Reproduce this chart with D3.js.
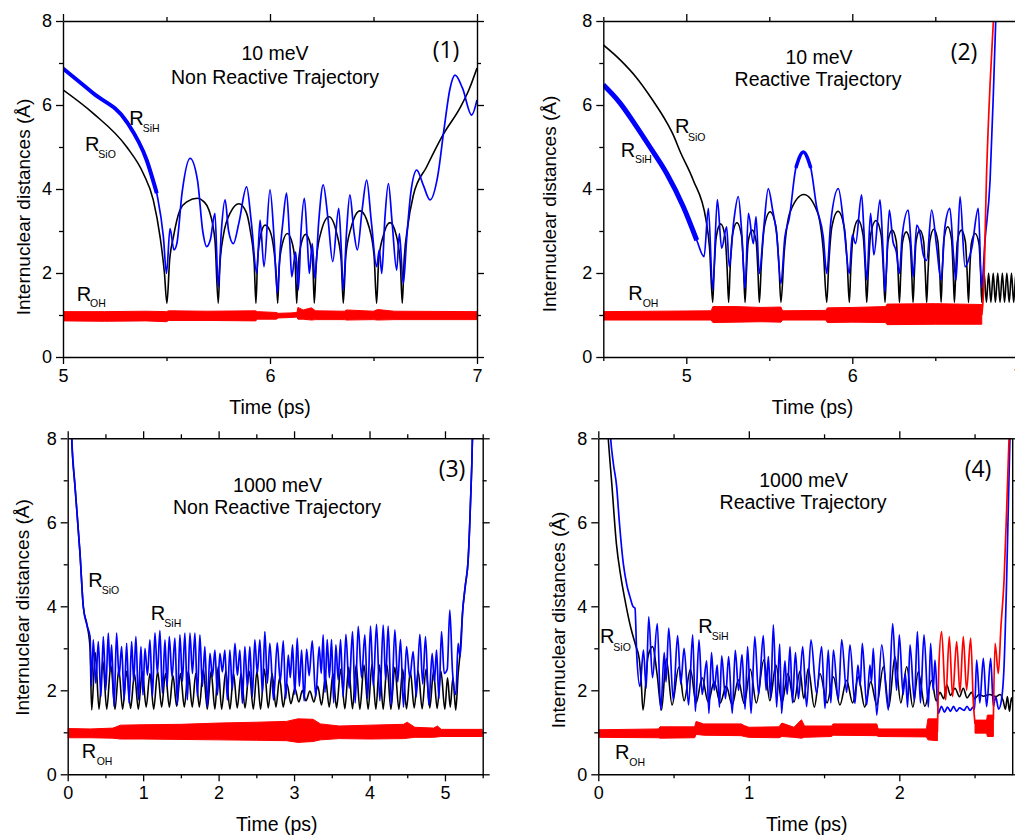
<!DOCTYPE html>
<html><head><meta charset="utf-8">
<script src="https://cdn.jsdelivr.net/npm/d3@7"></script>
<style>
body{margin:0;background:#fff}
svg{display:block}
text{font-family:"Liberation Sans",Arial,sans-serif;fill:#000}
</style></head>
<body><svg id="c" width="1015" height="835"></svg>
<script>
// ---------------- DATA ----------------
const yTicks = [0, 2, 4, 6, 8];
const yMinor = [1, 3, 5, 7];
const panelTitles = ["10 meV", "10 meV", "1000 meV", "1000 meV"];
const panelKinds = ["Non Reactive Trajectory", "Reactive Trajectory", "Non Reactive Trajectory", "Reactive Trajectory"];
const panelTags = ["(1)", "(2)", "(3)", "(4)"];
const xDomains = [[5, 7], [4.5, 7], [0, 5.5], [0, 2.75]];
const xMajor = [[5, 6, 7], [5, 6, 7], [0, 1, 2, 3, 4, 5], [0, 1, 2]];
const xMinor = [[5.5, 6.5], [4.5, 5.5, 6.5], [0.5, 1.5, 2.5, 3.5, 4.5, 5.5], [0.5, 1.5, 2.5]];
const xTitle = "Time (ps)";
const yTitle = "Internuclear distances (Å)";

// Panel 1 : 10 meV non reactive
const p1SiO = [[5.0,6.36],[5.146,5.8],[5.308,5.0],[5.388,4.37],[5.436,3.74],[5.469,2.86],[5.49,2.0],[5.502,1.28],
 [5.515,2.3],[5.533,2.85],[5.565,3.5],[5.6,3.7],[5.65,3.78],[5.68,3.7],[5.705,3.5],[5.734,2.79],[5.75,1.28],
 [5.758,2.2],[5.775,2.9],[5.81,3.45],[5.85,3.65],[5.885,3.45],[5.905,3.0],[5.924,2.2],[5.932,1.28],
 [5.94,2.3],[5.955,2.9],[5.976,3.14],[6.0,3.0],[6.02,2.5],[6.031,1.9],[6.037,1.28],
 [6.045,2.2],[6.06,2.7],[6.084,2.94],[6.108,2.7],[6.122,2.2],[6.129,1.28],
 [6.137,2.2],[6.15,2.68],[6.172,2.92],[6.195,2.68],[6.207,2.2],[6.214,1.28],
 [6.224,2.3],[6.245,2.95],[6.285,3.34],[6.322,2.95],[6.344,2.3],[6.354,1.28],
 [6.366,2.4],[6.39,3.05],[6.435,3.48],[6.478,3.1],[6.503,2.4],[6.515,1.28],
 [6.525,2.3],[6.548,2.9],[6.58,3.2],[6.61,2.9],[6.63,2.2],[6.639,1.28],
 [6.648,2.3],[6.665,3.1],[6.692,3.84],[6.757,4.53],[6.837,5.3],[6.92,5.95],[6.96,6.35],[7.0,6.88]];
const p1SiH = [[5.0,6.87],[5.146,6.28],[5.308,5.6],[5.404,4.69],[5.453,3.9],[5.485,2.86],[5.5,1.99],
 [5.517,3.06],[5.536,2.55],[5.55,2.7],[5.575,3.9],[5.614,4.73],[5.65,4.2],[5.675,3.0],[5.694,2.63],[5.712,2.8],[5.734,3.42],[5.75,1.67],
 [5.765,3.0],[5.783,3.74],[5.8,3.0],[5.823,2.7],[5.85,3.2],[5.887,4.05],[5.91,3.2],[5.936,1.99],[5.952,3.26],[5.971,2.15],
 [6.0,3.98],[6.02,2.8],[6.035,1.52],[6.05,2.6],[6.062,3.2],[6.08,3.9],[6.095,2.8],[6.105,1.91],[6.124,2.5],[6.137,1.6],
 [6.15,3.0],[6.166,3.78],[6.18,2.8],[6.19,1.99],[6.204,2.7],[6.217,1.87],[6.235,3.2],[6.257,4.1],[6.28,3.3],[6.303,2.27],
 [6.332,3.54],[6.345,2.5],[6.354,1.6],[6.37,3.0],[6.386,3.86],[6.405,3.0],[6.422,2.55],[6.445,3.5],[6.467,4.21],[6.49,3.2],
 [6.515,2.15],[6.528,2.55],[6.54,1.99],[6.555,3.3],[6.572,4.13],[6.59,3.2],[6.612,2.07],[6.625,2.94],[6.644,1.75],
 [6.66,2.8],[6.68,3.9],[6.709,4.45],[6.74,4.1],[6.773,3.74],[6.81,4.3],[6.84,5.4],[6.87,6.4],[6.894,6.71],[6.93,6.4],[6.974,5.76],[7.0,6.12]];
const p1OH = [[5.0,0.86,1.08],[5.2,0.85,1.08],[5.4,0.86,1.09],[5.5,0.84,1.08],[5.51,0.87,1.1],[5.7,0.87,1.09],[5.93,0.86,1.1],
 [5.94,0.9,1.08],[6.03,0.9,1.06],[6.04,0.93,1.04],[6.1,0.94,1.05],[6.13,0.95,1.06],[6.135,0.9,1.18],[6.16,0.9,1.12],[6.2,0.88,1.17],
 [6.22,0.89,1.1],[6.36,0.89,1.09],[6.37,0.88,1.12],[6.5,0.89,1.09],[6.52,0.88,1.13],[6.6,0.89,1.09],[7.0,0.89,1.08]];

// Panel 2 : 10 meV reactive
const p2SiO = [[4.5,7.43],[4.6,7.08],[4.7,6.65],[4.8,6.1],[4.88,5.6],[4.92,5.3],[4.962,4.9],[5.042,4.21],[5.119,3.26],[5.14,2.6],[5.159,1.3],
 [5.168,2.1],[5.18,2.85],[5.207,3.17],[5.234,2.85],[5.246,2.1],[5.255,1.3],
 [5.264,2.1],[5.277,2.88],[5.305,3.2],[5.333,2.88],[5.345,2.1],[5.354,1.3],
 [5.362,2.0],[5.373,2.75],[5.397,3.02],[5.421,2.75],[5.432,2.0],[5.44,1.3],
 [5.452,2.2],[5.47,3.1],[5.505,3.46],[5.54,3.1],[5.558,2.2],[5.57,1.3],
 [5.59,2.5],[5.625,3.45],[5.708,3.87],[5.79,3.45],[5.826,2.5],[5.846,1.3],
 [5.858,2.2],[5.877,3.1],[5.914,3.47],[5.951,3.1],[5.97,2.2],[5.982,1.3],
 [5.991,2.1],[6.005,2.9],[6.035,3.26],[6.065,2.9],[6.078,2.1],[6.087,1.3],
 [6.097,2.1],[6.11,2.9],[6.142,3.25],[6.174,2.9],[6.187,2.1],[6.197,1.3],
 [6.205,2.0],[6.215,2.75],[6.24,3.02],[6.265,2.75],[6.276,2.0],[6.284,1.3],
 [6.292,2.0],[6.302,2.72],[6.325,2.98],[6.348,2.72],[6.358,2.0],[6.366,1.3],
 [6.374,2.0],[6.384,2.75],[6.407,3.02],[6.43,2.75],[6.44,2.0],[6.448,1.3],
 [6.456,2.0],[6.467,2.76],[6.491,3.04],[6.515,2.76],[6.527,2.0],[6.535,1.3],
 [6.542,2.0],[6.552,2.8],[6.575,3.1],[6.598,2.8],[6.608,2.0],[6.615,1.3],
 [6.623,2.0],[6.633,2.75],[6.657,3.02],[6.681,2.75],[6.692,2.0],[6.7,1.3],
 [6.707,2.0],[6.717,2.7],[6.74,2.94],[6.763,2.7],[6.773,2.0],[6.78,1.3],
 [6.794,2.0],[6.808,1.3],[6.821,2.0],[6.835,1.3],[6.849,2.0],[6.862,1.3],[6.876,2.0],[6.89,1.3],[6.904,2.0],[6.917,1.3],
 [6.931,2.0],[6.945,1.3],[6.959,2.0],[6.972,1.3],[6.986,2.0],[7.0,1.3],[7.014,2.0]];
const p2SiH = [[4.5,6.48],[4.6,6.05],[4.681,5.6],[4.781,5.0],[4.882,4.37],[4.982,3.58],[5.063,2.78],[5.107,2.39],
 [5.133,3.54],[5.159,1.6],[5.187,3.75],[5.213,2.59],[5.243,3.1],[5.259,2.15],[5.285,3.2],[5.313,3.82],[5.335,2.9],[5.354,1.63],
 [5.374,3.42],[5.404,2.7],[5.42,3.34],[5.44,1.99],[5.465,3.0],[5.494,4.01],[5.52,3.5],[5.544,2.94],[5.57,1.75],[5.594,2.86],
 [5.62,3.3],[5.66,4.5],[5.705,4.88],[5.75,4.5],[5.785,3.58],[5.825,2.86],[5.846,1.99],[5.87,3.2],[5.916,4.01],[5.95,3.1],[5.982,1.99],
 [6.0,2.9],[6.02,2.7],[6.056,3.86],[6.07,3.0],[6.087,1.83],[6.11,3.42],[6.13,2.43],[6.167,3.74],[6.182,2.8],[6.197,1.55],
 [6.223,3.5],[6.245,2.75],[6.265,2.51],[6.284,1.99],[6.3,2.87],[6.337,3.5],[6.355,2.6],[6.367,1.91],[6.388,3.14],[6.41,2.9],
 [6.428,2.43],[6.448,2.3],[6.478,3.5],[6.508,2.63],[6.535,1.83],[6.558,3.1],[6.588,3.54],[6.61,2.4],[6.625,1.83],[6.649,3.82],
 [6.679,2.15],[6.7,2.31],[6.72,2.6],[6.759,3.54],[6.779,1.67],[6.8,2.8],[6.83,4.21],[6.85,6.3],[6.864,8.0],[6.87,8.6]];
const p2OH = [[4.5,0.88,1.08],[5.15,0.88,1.1],[5.16,0.82,1.2],[5.3,0.83,1.2],[5.45,0.84,1.18],[5.57,0.83,1.19],[5.58,0.88,1.1],
 [5.84,0.88,1.11],[5.85,0.82,1.17],[6.0,0.83,1.18],[6.2,0.82,1.2],[6.21,0.77,1.26],[6.5,0.78,1.27],[6.78,0.78,1.25]];
const p2OHrise = [[6.78,1.0],[6.79,1.5],[6.81,4.5],[6.83,6.5],[6.85,8.0],[6.86,8.8]];

// Panel 3 : 1000 meV non reactive
const p3SiO = [[0.045,8.6],[0.053,8.0],[0.097,6.85],[0.163,5.26],[0.207,3.99],[0.26,3.52],[0.296,3.0],[0.318,1.53],
 [0.366,2.9],[0.415,1.55],[0.466,2.7],[0.517,1.55],[0.572,2.6],[0.627,1.55],[0.677,2.5],[0.728,1.55],[0.781,2.45],[0.834,1.57],
 [0.885,2.4],[0.936,1.55],[0.988,2.45],[1.04,1.6],[1.09,2.4],[1.14,1.55],[1.192,2.45],[1.245,1.6],[1.296,2.4],[1.347,1.6],
 [1.395,2.35],[1.444,1.62],[1.494,2.4],[1.545,1.6],[1.598,2.45],[1.651,1.6],[1.697,2.4],[1.744,1.6],[1.797,2.5],[1.85,1.55],
 [1.9,2.45],[1.951,1.55],[1.995,2.56],[2.04,1.55],[2.095,2.45],[2.15,1.55],[2.198,2.4],[2.247,1.58],[2.298,2.4],[2.35,1.58],
 [2.405,2.45],[2.46,1.55],[2.508,2.45],[2.556,1.55],[2.607,2.5],[2.658,1.58],[2.709,2.4],[2.76,1.6],[2.808,2.3],[2.856,1.6],
 [2.907,2.15],[2.958,1.68],[3.011,2.05],[3.064,1.72],[3.11,2.0],[3.157,1.75],[3.21,1.98],[3.263,1.72],[3.313,2.1],[3.364,1.65],
 [3.415,2.3],[3.466,1.6],[3.515,2.4],[3.563,1.58],[3.618,2.5],[3.673,1.56],[3.724,2.55],[3.775,1.56],[3.823,2.6],[3.872,1.55],
 [3.927,2.6],[3.982,1.55],[4.033,2.62],[4.084,1.55],[4.132,2.6],[4.181,1.55],[4.232,2.6],[4.283,1.55],[4.336,2.55],[4.389,1.55],
 [4.44,2.5],[4.49,1.56],[4.541,2.45],[4.592,1.58],[4.645,2.45],[4.698,1.56],[4.748,2.5],[4.799,1.58],[4.848,2.45],[4.896,1.57],
 [4.947,2.45],[4.998,1.55],[5.034,2.3],[5.07,1.6],[5.105,2.3],[5.143,1.53],[5.175,2.4],[5.2,2.88],[5.235,3.9],[5.27,4.5],
 [5.307,5.1],[5.338,6.45],[5.364,8.0],[5.37,8.6]];
const p3SiH = [[0.04,8.6],[0.053,8.0],[0.097,6.85],[0.163,5.26],[0.207,3.99],[0.26,3.52],[0.296,3.28],[0.315,2.1],
 [0.339,3.2],[0.372,2.17],[0.406,3.16],[0.44,1.85],[0.472,3.28],[0.505,2.0],[0.538,3.36],[0.56,2.44],[0.582,3.08],[0.615,1.61],
 [0.648,3.36],[0.68,2.32],[0.715,3.04],[0.748,1.77],[0.781,3.12],[0.814,1.69],[0.847,3.16],[0.875,2.21],[0.904,3.28],[0.937,1.77],
 [0.971,3.04],[0.997,1.89],[1.024,3.0],[1.057,2.36],[1.09,3.2],[1.123,1.85],[1.156,3.37],[1.189,2.4],[1.222,3.42],[1.255,1.93],
 [1.289,3.2],[1.317,2.09],[1.346,3.28],[1.383,2.32],[1.421,3.24],[1.454,1.65],[1.487,3.32],[1.52,2.21],[1.553,3.36],[1.586,1.77],
 [1.62,3.36],[1.653,2.4],[1.686,3.36],[1.719,1.85],[1.752,3.32],[1.785,2.09],[1.818,3.04],[1.851,1.61],[1.885,2.88],[1.918,2.32],
 [1.951,2.96],[1.984,1.89],[2.017,2.88],[2.05,2.44],[2.083,2.96],[2.116,1.77],[2.149,2.96],[2.182,2.01],[2.216,3.12],[2.249,2.36],
 [2.282,2.96],[2.315,1.69],[2.348,3.04],[2.381,2.09],[2.414,3.04],[2.447,1.85],[2.48,3.2],[2.513,2.4],[2.547,3.2],[2.58,1.93],
 [2.613,3.4],[2.646,2.17],[2.679,3.12],[2.728,1.77],[2.777,3.13],[2.817,2.2],[2.857,3.18],[2.89,1.8],[2.923,2.84],[2.95,2.3],
 [2.98,3.08],[3.01,1.9],[3.042,3.24],[3.07,2.1],[3.1,2.96],[3.133,1.75],[3.166,2.98],[3.2,2.35],[3.241,3.18],[3.287,1.85],
 [3.333,3.04],[3.36,2.4],[3.386,3.32],[3.41,1.95],[3.439,3.21],[3.468,2.3],[3.497,3.21],[3.525,1.7],[3.554,3.08],[3.585,2.25],
 [3.616,3.21],[3.65,1.85],[3.687,3.33],[3.73,2.05],[3.775,3.4],[3.81,1.7],[3.85,3.52],[3.895,2.3],[3.938,3.32],[3.975,1.8],
 [4.013,3.53],[4.05,2.1],[4.093,3.57],[4.137,1.75],[4.181,3.55],[4.214,2.25],[4.247,3.53],[4.29,1.65],[4.336,3.44],[4.374,2.2],
 [4.411,3.21],[4.45,1.6],[4.49,3.04],[4.534,2.3],[4.578,2.92],[4.62,1.85],[4.667,3.33],[4.705,2.15],[4.742,3.28],[4.786,1.65],
 [4.83,2.88],[4.86,2.2],[4.888,2.96],[4.92,1.8],[4.954,3.4],[4.99,2.4],[5.03,2.5],[5.064,3.91],[5.1,2.44],[5.144,1.9],
 [5.174,3.12],[5.2,2.8],[5.235,3.9],[5.27,4.5],[5.307,5.1],[5.338,6.45],[5.364,8.0],[5.37,8.6]];
const p3OH = [[0,0.87,1.09],[0.3,0.87,1.08],[0.6,0.86,1.1],[0.7,0.84,1.17],[1.0,0.84,1.18],[1.5,0.83,1.19],[2.0,0.82,1.22],
 [2.5,0.81,1.24],[2.9,0.8,1.26],[3.05,0.76,1.32],[3.25,0.78,1.31],[3.35,0.82,1.2],[3.6,0.85,1.15],[4.0,0.84,1.17],
 [4.45,0.85,1.19],[4.5,0.86,1.24],[4.6,0.88,1.12],[4.85,0.88,1.1],[4.9,0.89,1.15],[4.95,0.9,1.07],[5.5,0.9,1.07]];

// Panel 4 : 1000 meV reactive
const p4SiO = [[0.055,8.6],[0.066,8.0],[0.09,6.9],[0.12,5.5],[0.15,4.7],[0.18,4.1],[0.215,3.5],[0.25,3.05],[0.272,2.75],[0.285,2.2],[0.297,1.53],
 [0.33,2.8],[0.361,3.04],[0.39,2.4],[0.42,1.53],[0.452,2.75],[0.49,1.65],[0.535,2.55],[0.57,1.75],[0.612,2.5],[0.65,1.7],
 [0.69,2.3],[0.73,1.72],[0.77,2.2],[0.81,1.7],[0.85,2.1],[0.89,1.65],[0.93,2.25],[0.97,1.68],[1.01,2.5],[1.05,1.7],
 [1.1,2.72],[1.14,1.75],[1.18,2.6],[1.22,1.7],[1.26,2.4],[1.3,1.72],[1.34,2.45],[1.365,1.8],[1.395,2.52],[1.435,1.6],
 [1.473,2.4],[1.52,1.7],[1.562,2.32],[1.605,1.65],[1.65,2.24],[1.69,1.7],[1.728,2.32],[1.77,1.6],[1.81,2.2],[1.85,1.65],
 [1.894,2.56],[1.93,1.6],[1.971,2.8],[2.01,1.7],[2.049,2.56],[2.09,1.6],[2.126,2.44],[2.17,1.62],[2.215,2.24],[2.245,1.75],
 [2.27,1.95],[2.295,1.8],[2.315,2.13],[2.34,1.88],[2.37,2.05],[2.4,1.85],[2.425,2.05],[2.45,1.82],[2.48,1.95],[2.5,1.8],
 [2.53,1.9],[2.56,1.86],[2.6,1.9],[2.64,1.85],[2.67,1.9],[2.69,1.75],[2.705,1.55],[2.718,1.85],[2.732,1.5],[2.745,1.82],[2.76,1.5]];
const p4SiH = [[0.075,8.4],[0.082,8.0],[0.1,7.4],[0.122,6.85],[0.14,6.0],[0.166,5.02],[0.19,4.5],[0.21,4.23],[0.23,4.0],[0.244,3.95],
 [0.255,2.88],[0.277,2.09],[0.3,2.96],[0.318,2.05],[0.335,3.75],[0.36,2.3],[0.392,3.59],[0.415,1.53],[0.438,2.9],[0.45,2.2],
 [0.468,3.48],[0.498,1.77],[0.527,3.3],[0.548,2.15],[0.57,3.0],[0.6,1.65],[0.627,3.32],[0.645,1.5],[0.669,3.2],[0.69,1.9],
 [0.72,2.7],[0.735,1.45],[0.752,2.9],[0.77,2.0],[0.79,2.6],[0.805,1.6],[0.82,2.82],[0.845,1.8],[0.866,2.8],[0.89,1.45],
 [0.91,2.95],[0.932,2.0],[0.955,2.85],[0.975,1.55],[0.992,3.04],[1.015,1.45],[1.04,3.28],[1.065,1.9],[1.096,3.3],[1.115,2.0],
 [1.13,2.8],[1.145,1.8],[1.163,3.56],[1.185,1.6],[1.205,3.1],[1.218,1.45],[1.24,2.7],[1.255,1.9],[1.274,3.04],[1.29,1.7],
 [1.31,2.9],[1.33,1.8],[1.358,3.04],[1.384,1.61],[1.413,3.2],[1.45,1.93],[1.484,3.04],[1.506,1.57],[1.528,2.96],[1.545,1.7],
 [1.562,2.96],[1.595,1.77],[1.617,3.21],[1.65,1.95],[1.672,3.08],[1.705,1.69],[1.725,2.6],[1.74,2.1],[1.754,3.12],[1.783,1.65],
 [1.805,2.6],[1.815,2.2],[1.827,3.0],[1.85,1.41],[1.883,3.08],[1.927,1.53],[1.956,3.59],[1.982,2.0],[2.0,3.32],[2.025,1.9],
 [2.04,2.4],[2.055,1.6],[2.071,3.08],[2.1,1.75],[2.12,3.4],[2.14,1.7],[2.164,3.32],[2.193,1.6],[2.208,3.12],[2.225,2.0],
 [2.237,2.72],[2.259,1.45],[2.28,1.62],[2.3,1.48],[2.32,1.6],[2.34,1.5],[2.36,1.62],[2.38,1.5],[2.4,1.58],[2.43,1.52],
 [2.45,1.62],[2.47,1.52],[2.49,1.6],[2.5,1.55],[2.514,2.72],[2.535,1.7],[2.558,2.76],[2.58,1.61],[2.607,2.76],[2.625,1.61],
 [2.64,1.85],[2.66,1.55],[2.68,1.8],[2.695,2.5],[2.713,4.63],[2.725,6.5],[2.735,8.0],[2.74,8.6]];
const p4OH = [[0,0.88,1.06],[0.4,0.87,1.08],[0.41,0.86,1.13],[0.64,0.87,1.13],[0.65,0.95,1.26],[0.7,0.93,1.2],[0.95,0.92,1.2],
 [0.97,0.9,1.16],[1.0,0.88,1.12],[1.2,0.87,1.13],[1.22,0.9,1.22],[1.3,0.88,1.12],[1.35,0.86,1.3],[1.37,0.88,1.15],[1.55,0.9,1.15],
 [1.56,0.93,1.2],[1.85,0.92,1.2],[1.86,0.9,1.08],[2.18,0.89,1.08],[2.19,0.82,1.32],[2.253,0.8,1.32]];
const p4OHosc = [[2.253,1.0],[2.262,2.5],[2.281,3.4],[2.308,1.77],[2.332,3.28],[2.354,1.85],[2.381,3.16],[2.403,1.95],[2.425,3.28],
 [2.447,2.0],[2.474,3.24],[2.492,1.69],[2.503,1.2]];
const p4OHband2 = [[2.503,0.98,1.29],[2.58,0.98,1.29],[2.585,0.9,1.41],[2.625,0.9,1.41]];
const p4OHrise = [[2.625,1.3],[2.636,3.12],[2.658,2.4],[2.675,3.5],[2.696,4.63],[2.715,6.5],[2.729,8.0],[2.735,8.6]];

// ---------------- LAYOUT ----------------
const layout = [
 {xr:[63,477], yr:[357,21], yLab:[29.5,207], xLab:[270,414], title:[275,60], kind:[275,84], tag:[446,58],
  lab:{SiH:[129.3,125,142.7,131.5], SiO:[85,150.7,98.3,158], OH:[76.7,300.7,90,307.3]}},
 {xr:[603.3,1018.3], yr:[357,21], yLab:[556,204], xLab:[812.5,414], title:[819,64], kind:[818,86], tag:[964,60],
  lab:{SiH:[620.7,156.7,635,163.3], SiO:[675,133.3,688,140.7], OH:[628.3,300,642.7,306.7]}},
 {xr:[67.7,482.7], yr:[774.3,438.3], yLab:[29,607.5], xLab:[276.7,830.7], title:[277.5,491.7], kind:[277,514], tag:[452,477],
  lab:{SiH:[150.7,620,164.3,627.3], SiO:[88.3,586.7,101.7,594], OH:[81.7,758.3,96.7,765]}},
 {xr:[598.3,1012.2], yr:[774.3,438.3], yLab:[565,620], xLab:[806.7,830.7], title:[803.7,486.7], kind:[803,509], tag:[978,477],
  lab:{SiH:[698.3,632.7,711.7,640], SiO:[600,643.3,613.3,651], OH:[615,759.3,629.3,766]}}
];
const series = [
 {SiO:p1SiO, SiH:p1SiH, bands:[p1OH], redLines:[], thick:[[5.0,5.47,4]]},
 {SiO:p2SiO, SiH:p2SiH, bands:[p2OH], redLines:[p2OHrise], thick:[[4.5,5.1,5],[5.65,5.76,3.5]]},
 {SiO:p3SiO, SiH:p3SiH, bands:[p3OH], redLines:[], thick:[]},
 {SiO:p4SiO, SiH:p4SiH, bands:[p4OH,p4OHband2], redLines:[p4OHosc,p4OHrise], thick:[]}
];

// ---------------- DRAW ----------------
const svg = d3.select("#c");
const defs = svg.append("defs");
const BLUE = "#0000ff", RED = "#ff0000";

layout.forEach((L, i) => {
  const S = series[i];
  const x = d3.scaleLinear().domain(xDomains[i]).range(L.xr);
  const y = d3.scaleLinear().domain([0, 8]).range(L.yr);
  const id = "clip" + i;
  defs.append("clipPath").attr("id", id).append("rect")
    .attr("x", L.xr[0]).attr("y", L.yr[1]).attr("width", L.xr[1] - L.xr[0]).attr("height", L.yr[0] - L.yr[1]);
  const plot = svg.append("g").attr("clip-path", `url(#${id})`);
  const line = d3.line().x(d => x(d[0])).y(d => y(d[1])).curve(d3.curveMonotoneX);
  const area = d3.area().x(d => x(d[0])).y0(d => y(d[1])).y1(d => y(d[2]));

  // black R_SiO
  plot.append("path").datum(S.SiO).attr("d", line).attr("fill", "none").attr("stroke", "#000").attr("stroke-width", 1.6);
  // blue R_SiH
  plot.append("path").datum(S.SiH).attr("d", line).attr("fill", "none").attr("stroke", BLUE).attr("stroke-width", 1.7);
  S.thick.forEach(([a, b, w]) => {
    plot.append("path").datum(S.SiH.filter(d => d[0] >= a && d[0] <= b)).attr("d", line)
      .attr("fill", "none").attr("stroke", BLUE).attr("stroke-width", w);
  });
  // red R_OH
  S.bands.forEach(b => plot.append("path").datum(b).attr("d", area).attr("fill", RED).attr("stroke", RED).attr("stroke-width", 1));
  S.redLines.forEach(r => plot.append("path").datum(r).attr("d", line).attr("fill", "none").attr("stroke", RED).attr("stroke-width", 1.7));

  // axes
  const fmt = d3.format("d");
  const styl = g => {
    g.selectAll("path.domain").attr("stroke", "#000").attr("stroke-width", 1.4);
    g.selectAll(".tick line").attr("stroke", "#000").attr("stroke-width", 1.3);
    g.selectAll("text").attr("font-size", 18).attr("font-family", '"Liberation Sans",Arial,sans-serif').attr("fill", "#000");
  };
  const put = (axis, tx, ty, showDomain) => {
    const g = svg.append("g").attr("transform", `translate(${tx},${ty})`).call(axis);
    styl(g);
    if (!showDomain) g.select("path.domain").remove();
    return g;
  };
  const [xb, ye] = [L.yr[0], L.yr[1]];
  put(d3.axisBottom(x).tickValues(xMajor[i]).tickSize(7).tickSizeOuter(0).tickPadding(5).tickFormat(fmt), 0, xb, true);
  put(d3.axisBottom(x).tickValues(xMinor[i]).tickSize(4).tickSizeOuter(0).tickFormat(""), 0, xb, false);
  put(d3.axisTop(x).tickValues(xMajor[i]).tickSize(7).tickSizeOuter(0).tickFormat(""), 0, ye, true);
  put(d3.axisTop(x).tickValues(xMinor[i]).tickSize(4).tickSizeOuter(0).tickFormat(""), 0, ye, false);
  put(d3.axisLeft(y).tickValues(yTicks).tickSize(7).tickSizeOuter(0).tickPadding(4).tickFormat(fmt), L.xr[0], 0, true);
  put(d3.axisLeft(y).tickValues(yMinor).tickSize(4).tickSizeOuter(0).tickFormat(""), L.xr[0], 0, false);
  put(d3.axisRight(y).tickValues(yTicks).tickSize(7).tickSizeOuter(0).tickFormat(""), L.xr[1], 0, true);
  put(d3.axisRight(y).tickValues(yMinor).tickSize(4).tickSizeOuter(0).tickFormat(""), L.xr[1], 0, false);

  // titles
  svg.append("text").attr("x", L.xLab[0]).attr("y", L.xLab[1]).attr("text-anchor", "middle").attr("font-size", 19.5).text(xTitle);
  svg.append("text").attr("transform", `translate(${L.yLab[0]},${L.yLab[1]}) rotate(-90)`).attr("text-anchor", "middle")
    .attr("font-size", 19).text(yTitle);
  svg.append("text").attr("x", L.title[0]).attr("y", L.title[1]).attr("text-anchor", "middle").attr("font-size", 19.5).text(panelTitles[i]);
  svg.append("text").attr("x", L.kind[0]).attr("y", L.kind[1]).attr("text-anchor", "middle").attr("font-size", 19.5).text(panelKinds[i]);
  svg.append("text").attr("x", L.tag[0]).attr("y", L.tag[1]).attr("text-anchor", "middle").attr("font-size", 23)
    .style("font-family", '"Open Sans","Noto Sans",sans-serif').text(panelTags[i]);

  // series labels
  Object.entries(L.lab).forEach(([k, p]) => {
    svg.append("text").attr("x", p[0]).attr("y", p[1]).attr("font-size", 20).text("R");
    svg.append("text").attr("x", p[2]).attr("y", p[3]).attr("font-size", 10.5).text(k);
  });
});
</script>
</body></html>
